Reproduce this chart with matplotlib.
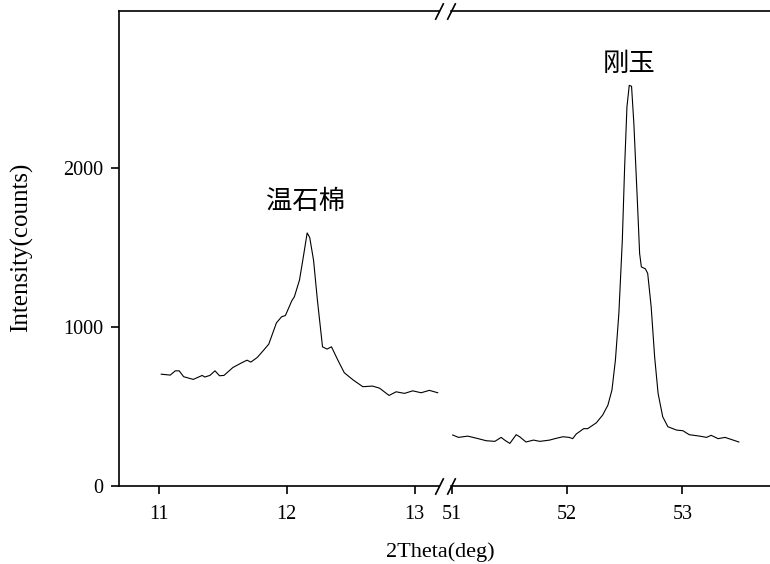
import numpy as np
import matplotlib
matplotlib.use("Agg")
import matplotlib.pyplot as plt

plt.rcParams['font.family'] = ['Liberation Serif', 'Noto Sans CJK SC']
plt.rcParams['axes.linewidth'] = 1.2

# 温石棉 (left part)
x1 = [11.02, 11.09, 11.13, 11.16, 11.195, 11.27, 11.34, 11.36, 11.40, 11.44,
      11.475, 11.51, 11.58, 11.64, 11.69, 11.72, 11.77, 11.82, 11.86, 11.92,
      11.96, 11.99, 12.04, 12.06, 12.10, 12.13, 12.16, 12.18, 12.21, 12.24,
      12.28, 12.315, 12.35, 12.40, 12.45, 12.52, 12.595, 12.67, 12.725, 12.80,
      12.855, 12.92, 12.985, 13.05, 13.115, 13.18]
y1 = [704, 698, 725, 725, 688, 671, 696, 686, 696, 725,
      694, 696, 746, 772, 792, 780, 809, 855, 893, 1027,
      1065, 1073, 1166, 1191, 1296, 1442, 1593, 1564, 1421, 1170,
      876, 862, 876, 792, 713, 667, 625, 629, 616, 570,
      593, 583, 599, 587, 602, 587]

# 刚玉 (right part)
x2 = [51.01, 51.06, 51.14, 51.22, 51.30, 51.375, 51.43, 51.46, 51.505, 51.56,
      51.59, 51.645, 51.71, 51.765, 51.85, 51.895, 51.965, 52.02, 52.05, 52.08,
      52.145, 52.18, 52.255, 52.31, 52.355, 52.39, 52.42, 52.45, 52.48, 52.50,
      52.52, 52.54, 52.56, 52.58, 52.61, 52.63, 52.645, 52.68, 52.70, 52.73,
      52.76, 52.79, 52.83, 52.875, 52.95, 53.005, 53.06, 53.15, 53.21, 53.25,
      53.31, 53.37, 53.42, 53.49]
y2 = [321, 306, 314, 300, 285, 281, 306, 289, 268, 323,
      310, 277, 289, 281, 289, 298, 310, 306, 298, 327,
      361, 361, 398, 447, 509, 604, 792, 1086, 1547, 2008,
      2386, 2522, 2516, 2281, 1799, 1463, 1379, 1367, 1338, 1128,
      813, 583, 436, 373, 352, 348, 323, 314, 306, 319,
      298, 306, 294, 277]

fig = plt.figure(figsize=(7.7, 5.64), dpi=100)
bot = (564 - 486) / 564
h = (486 - 11) / 564
ax1 = fig.add_axes([119 / 770, bot, (439 - 119) / 770, h])
ax2 = fig.add_axes([451 / 770, bot, (770 - 451) / 770, h])

ax1.plot(x1, y1, color='black', lw=0.8)
ax2.plot(x2, y2, color='black', lw=0.8)

ax1.set_xlim(10.69, 13.19)
ax2.set_xlim(50.995, 53.76)
for ax in (ax1, ax2):
    ax.set_ylim(0, 2990)
    ax.spines['right'].set_visible(False)
    ax.tick_params(direction='out', length=5.5, width=1.2, labelsize=14.5, pad=8)
ax2.spines['left'].set_visible(False)
ax2.tick_params(axis='y', left=False, labelleft=False)
ax1.set_yticks([0, 1000, 2000])
ax1.tick_params(axis='y', pad=6)
ax1.set_xticks([11, 12, 13])
ax2.set_xticks([51, 52, 53])

# break marks
kw = dict(marker=[(-1, -2), (1, 2)], markersize=12, linestyle='none',
          color='black', mec='black', mew=1.2, clip_on=False)
ax1.plot([1, 1], [0, 1], transform=ax1.transAxes, **kw)
ax2.plot([0, 0], [0, 1], transform=ax2.transAxes, **kw)

ax1.text(12.15, 1790, '温石棉', fontsize=19, ha='center', va='center',
         family=['Noto Sans CJK SC'], fontweight='light')
ax2.text(52.54, 2660, '刚玉', fontsize=19, ha='center', va='center',
         family=['Noto Sans CJK SC'], fontweight='light')

fig.text(22 / 770, (564 - 247) / 564, 'Intensity(counts)', rotation=90,
         ha='center', va='center', fontsize=18)
fig.text(440 / 770, (564 - 552) / 564, '2Theta(deg)', ha='center',
         va='center', fontsize=16)

fig.savefig('out.png', dpi=100)
